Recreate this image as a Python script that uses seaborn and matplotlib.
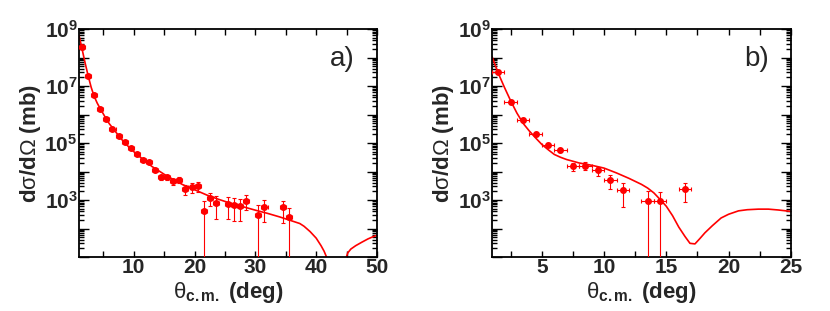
"""
Differential cross sections d(sigma)/d(Omega) vs theta_c.m.
Panel a) and b): data points with error bars + calculated curve
"""
import numpy as np
import matplotlib
matplotlib.use("Agg")
import matplotlib.pyplot as plt
import matplotlib.ticker as mticker
import seaborn as sns

# ---- panel a) data ----
theta_a = [1.5, 2.5, 3.5, 4.5, 5.5, 6.5, 7.5, 8.5, 9.5, 10.5, 11.5, 12.5, 13.5,
           14.5, 15.5, 16.5, 17.5, 18.5, 19.5, 20.5, 21.5, 22.5, 23.5, 25.5,
           26.5, 27.5, 28.5, 30.5, 31.5, 34.5, 35.5]
xs_a = [2.3e8, 2.2e7, 4.9e6, 1.6e6, 7.0e5, 3.2e5, 1.8e5, 1.1e5, 6.6e4, 4.0e4,
        2.6e4, 2.2e4, 1.15e4, 6.2e3, 6.2e3, 4.5e3, 5.1e3, 2.4e3, 2.8e3, 3.1e3,
        420, 1200, 780, 740, 680, 640, 960, 300, 590, 550, 260]
err_a = [1.5e7, 1.5e6, 3.5e5, 1.2e5, 5.5e4, 2.6e4, 1.5e4, 1.0e4, 6.0e3, 4.0e3,
         3.0e3, 2.6e3, 1.7e3, 1.2e3, 1.2e3, 1.1e3, 1.3e3, 950, 1000, 1250,
         480, 600, 565, 530, 490, 460, 510, 370, 425, 400, 270]
curve_theta_a = [1.0, 1.5, 2.0, 2.5, 3.0, 3.5, 4.0, 4.5, 5.0, 5.5, 6.0, 7.0, 8.0,
                 9.0, 10.0, 11.0, 12.0, 13.0, 14.0, 15.0, 16.0, 17.0, 18.0, 20.0,
                 22.0, 24.0, 26.0, 28.0, 30.0, 32.0, 34.0, 36.0, 37.3, 38.0, 39.0,
                 40.0, 40.8, 41.3, 41.7, 42.0, 43.4, 44.6, 44.9, 45.2, 45.7, 46.5,
                 47.5, 48.5, 49.3, 50.0]
curve_xs_a = [6e8, 2e8, 6.5e7, 2.3e7, 9e6, 4.3e6, 2.5e6, 1.6e6, 1.05e6, 6.8e5,
              4.7e5, 2.5e5, 1.35e5, 8e4, 5e4, 3.3e4, 2.2e4, 1.5e4, 1.1e4, 8e3,
              6e3, 4.7e3, 3.5e3, 2.3e3, 1.5e3, 1.05e3, 760, 580, 440, 340, 255,
              185, 150, 120, 78, 46, 25, 16, 10, 6, 0.5, 5, 9, 14, 19, 25, 33,
              43, 51, 58]

# ---- panel b) data ----
theta_b = [1.5, 2.5, 3.5, 4.5, 5.5, 6.5, 7.5, 8.5, 9.5, 10.5, 11.5, 13.5, 14.5, 16.5]
xs_b = [3.2e7, 2.7e6, 6.5e5, 2.0e5, 8.6e4, 5.5e4, 1.55e4, 1.6e4, 1.1e4, 5.0e3,
        2.2e3, 960, 910, 2.4e3]
err_b = [3.5e6, 4.0e5, 1.0e5, 2.5e4, 1.3e4, 8.0e3, 5.0e3, 5.0e3, 3.8e3, 2.5e3,
         1.65e3, 1060, 1000, 1550]
curve_theta_b = [1.0, 1.5, 2.0, 2.5, 3.0, 3.5, 4.0, 4.5, 5.0, 5.5, 6.0, 6.5, 7.0,
                 8.0, 9.0, 10.0, 11.0, 12.0, 13.0, 13.5, 14.0, 14.5, 15.0, 15.5,
                 16.0, 16.5, 16.9, 17.3, 17.7, 18.1, 18.7, 19.4, 20.0, 20.8, 21.5,
                 22.4, 23.2, 24.0, 25.0]
curve_log_b = [8.03, 7.45, 6.95, 6.48, 6.05, 5.69, 5.42, 5.18, 4.95, 4.77, 4.60,
               4.50, 4.42, 4.30, 4.22, 4.12, 3.95, 3.76, 3.55, 3.42, 3.25, 3.02,
               2.78, 2.45, 2.05, 1.72, 1.48, 1.46, 1.65, 1.85, 2.10, 2.37, 2.50,
               2.62, 2.66, 2.68, 2.68, 2.65, 2.60]
curve_xs_b = [10 ** v for v in curve_log_b]

sns.set_theme(style="ticks")
plt.rcParams["font.family"] = ["Liberation Sans", "DejaVu Sans"]
plt.rcParams["mathtext.fontset"] = "custom"
plt.rcParams["mathtext.rm"] = "Liberation Sans"
plt.rcParams["mathtext.it"] = "Liberation Sans"
plt.rcParams["mathtext.bf"] = "Liberation Sans:bold"

RED = "#ff0000"


def y_label(val, pos):
    e = int(round(np.log10(val)))
    if e >= 3 and e % 2 == 1:
        return r"$\mathbf{10^{%d}}$" % e
    return ""


def draw_panel(ax, theta, xs, err, c_theta, c_xs, xmax, x_major, x_minor, tag):
    y = np.array(xs)
    e = np.array(err)
    lower = np.minimum(e, y * 0.9999)
    ax.errorbar(theta, xs, yerr=[lower, e], xerr=0.5, fmt="o", color=RED,
                ms=4.0, elinewidth=0.8, capsize=1.2, capthick=0.8, zorder=3)
    sns.lineplot(x=c_theta, y=c_xs, ax=ax, color=RED, lw=1.2, sort=False,
                 estimator=None, zorder=2)

    ax.set_yscale("log")
    ax.set_xlim(1, xmax)
    ax.set_ylim(10, 1e9)
    ax.yaxis.set_major_locator(mticker.FixedLocator([10.0 ** k for k in range(1, 10)]))
    ax.yaxis.set_minor_locator(mticker.LogLocator(base=10, subs=np.arange(2, 10), numticks=20))
    ax.yaxis.set_major_formatter(mticker.FuncFormatter(y_label))
    ax.yaxis.set_minor_formatter(mticker.NullFormatter())
    ax.xaxis.set_major_locator(mticker.MultipleLocator(x_major))
    ax.xaxis.set_minor_locator(mticker.MultipleLocator(x_minor))
    ax.set_xticks([t for t in ax.get_xticks() if 1 < t <= xmax])

    ax.tick_params(which="both", direction="in", top=True, right=True, width=1.0,
                   color="black")
    ax.tick_params(axis="y", which="major", length=7, labelsize=15, pad=1)
    ax.tick_params(axis="y", which="minor", length=3.5)
    ax.tick_params(axis="x", which="both", length=4, labelsize=15, pad=1)
    for lbl in ax.get_xticklabels():
        lbl.set_fontweight("bold")
    for s in ax.spines.values():
        s.set_linewidth(1.3)
        s.set_color("black")

    ax.set_ylabel(r"d$\sigma$/d$\Omega$ (mb)", fontsize=16, fontweight="bold")
    ax.yaxis.set_label_coords(-0.12, 0.5)
    ax.set_xlabel(r"$\theta_{\mathbf{c.m.}}$ (deg)", fontsize=16, fontweight="bold")
    ax.xaxis.set_label_coords(0.5, -0.1)
    ax.text(0.885, 0.87, tag, transform=ax.transAxes, fontsize=20,
            ha="center", va="center")


fig = plt.figure(figsize=(8.3, 3.11), dpi=100)
ax_a = fig.add_axes([0.0952, 0.1736, 0.359, 0.733])
ax_b = fig.add_axes([0.5928, 0.1736, 0.360, 0.733])

draw_panel(ax_a, theta_a, xs_a, err_a, curve_theta_a, curve_xs_a, 50, 10, 5, "a)")
draw_panel(ax_b, theta_b, xs_b, err_b, curve_theta_b, curve_xs_b, 25, 5, 2.5, "b)")

fig.savefig("out.png", dpi=100)
plt.close(fig)
